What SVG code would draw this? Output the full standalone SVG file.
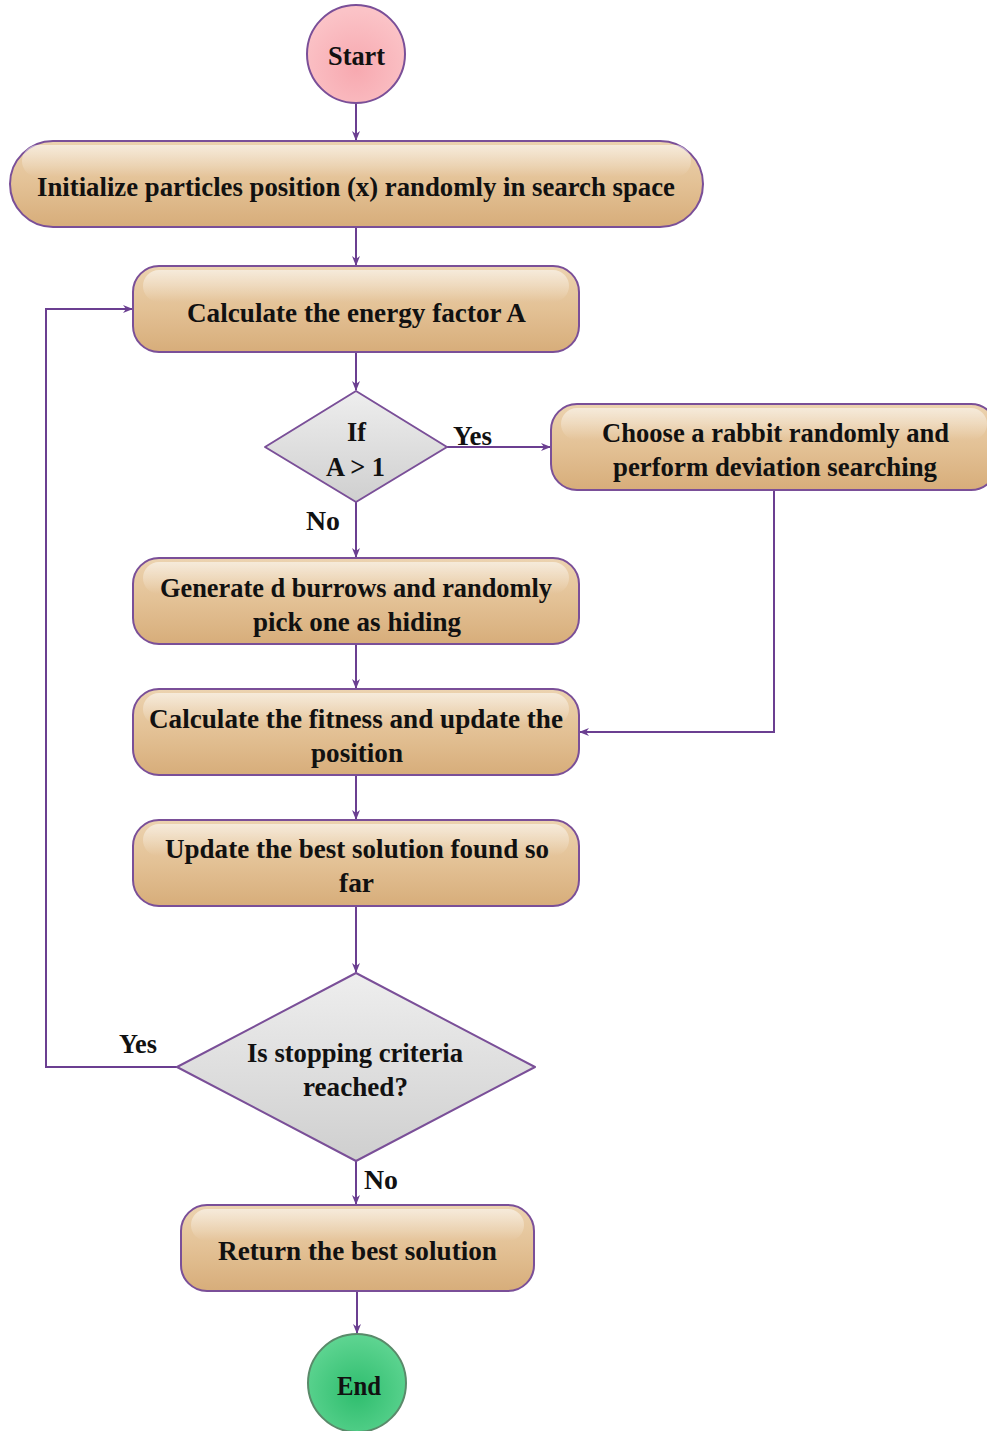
<svg xmlns="http://www.w3.org/2000/svg" width="987" height="1431" viewBox="0 0 987 1431">
<defs>
<linearGradient id="gBox" x1="0" y1="0" x2="0" y2="1">
<stop offset="0" stop-color="#ecd3b0"/>
<stop offset="0.5" stop-color="#e3c195"/>
<stop offset="1" stop-color="#d7ad7a"/>
</linearGradient>
<linearGradient id="gGloss" x1="0" y1="0" x2="0" y2="1">
<stop offset="0" stop-color="#ffffff" stop-opacity="0.55"/>
<stop offset="1" stop-color="#ffffff" stop-opacity="0"/>
</linearGradient>
<linearGradient id="gDia" x1="0" y1="0" x2="0" y2="1">
<stop offset="0" stop-color="#eeeeee"/>
<stop offset="1" stop-color="#cfcfcf"/>
</linearGradient>
<radialGradient id="gStart" cx="0.5" cy="0.65" r="0.6">
<stop offset="0" stop-color="#f7a9b0"/>
<stop offset="1" stop-color="#fbc3c7"/>
</radialGradient>
<radialGradient id="gEnd" cx="0.5" cy="0.6" r="0.6">
<stop offset="0" stop-color="#2fbd6e"/>
<stop offset="1" stop-color="#5fd592"/>
</radialGradient>
<marker id="arr" viewBox="0 0 10 10" refX="9" refY="5" markerWidth="10" markerHeight="10" markerUnits="userSpaceOnUse" orient="auto">
<path d="M0,1 L10,5 L0,9 L3,5 Z" fill="#6b3f91"/>
</marker>
</defs>
<style>
.box{fill:url(#gBox);stroke:#7a4f98;stroke-width:2}
.gl{fill:url(#gGloss);stroke:none}
.dia{fill:url(#gDia);stroke:#7a4f98;stroke-width:2;stroke-linejoin:round}
.t{font-family:"Liberation Serif","DejaVu Serif","Times New Roman",Times,serif;font-weight:bold;font-size:27px;fill:#111;text-anchor:middle}
.c{fill:none;stroke:#6b3f91;stroke-width:2}
</style>
<rect width="987" height="1431" fill="#ffffff"/>
<g id="connectors">
<line class="c" x1="356" y1="103" x2="356" y2="140" marker-end="url(#arr)"/>
<line class="c" x1="356" y1="227" x2="356" y2="265" marker-end="url(#arr)"/>
<line class="c" x1="356" y1="352" x2="356" y2="390" marker-end="url(#arr)"/>
<line class="c" x1="447" y1="447" x2="550" y2="447" marker-end="url(#arr)"/>
<line class="c" x1="356" y1="502" x2="356" y2="557" marker-end="url(#arr)"/>
<line class="c" x1="356" y1="644" x2="356" y2="688" marker-end="url(#arr)"/>
<polyline class="c" points="774,490 774,732 580,732" marker-end="url(#arr)"/>
<line class="c" x1="356" y1="775" x2="356" y2="819" marker-end="url(#arr)"/>
<line class="c" x1="356" y1="906" x2="356" y2="972" marker-end="url(#arr)"/>
<polyline class="c" points="177,1067 46,1067 46,309 132,309" marker-end="url(#arr)"/>
<line class="c" x1="356" y1="1161" x2="356" y2="1204" marker-end="url(#arr)"/>
<line class="c" x1="357" y1="1291" x2="357" y2="1333" marker-end="url(#arr)"/>
<text class="t" x="472.5" y="445" textLength="39" lengthAdjust="spacingAndGlyphs">Yes</text>
<text class="t" x="323" y="530" textLength="34" lengthAdjust="spacingAndGlyphs">No</text>
<text class="t" x="138" y="1053" textLength="38" lengthAdjust="spacingAndGlyphs">Yes</text>
<text class="t" x="381" y="1189" textLength="34" lengthAdjust="spacingAndGlyphs">No</text>
</g>
<g id="start">
<ellipse cx="356" cy="54" rx="49" ry="49" fill="url(#gStart)" stroke="#7a4f98" stroke-width="2"/>
<text class="t" x="356.5" y="65" textLength="57" lengthAdjust="spacingAndGlyphs">Start</text>
</g>
<g id="init">
<rect class="box" x="10" y="141" width="693" height="86" rx="43"/>
<rect class="gl" x="22" y="145" width="669" height="32" rx="16"/>
<text class="t" x="356" y="196" textLength="638" lengthAdjust="spacingAndGlyphs">Initialize particles position (x) randomly in search space</text>
</g>
<g id="energy">
<rect class="box" x="133" y="266" width="446" height="86" rx="26"/>
<rect class="gl" x="143" y="270" width="426" height="32" rx="16"/>
<text class="t" x="356.5" y="322" textLength="339" lengthAdjust="spacingAndGlyphs">Calculate the energy factor A</text>
</g>
<g id="ifA">
<path class="dia" d="M356,391 L447,447 L356,502 L265,447 Z"/>
<text class="t" x="356.5" y="441" textLength="19" lengthAdjust="spacingAndGlyphs">If</text>
<text class="t" x="355.5" y="476" textLength="59" lengthAdjust="spacingAndGlyphs">A &gt; 1</text>
</g>
<g id="choose">
<rect class="box" x="551" y="404" width="446" height="86" rx="26"/>
<rect class="gl" x="561" y="408" width="426" height="32" rx="16"/>
<text class="t" x="775.5" y="442" textLength="347" lengthAdjust="spacingAndGlyphs">Choose a rabbit randomly and</text>
<text class="t" x="775" y="476" textLength="324" lengthAdjust="spacingAndGlyphs">perform deviation searching</text>
</g>
<g id="generate">
<rect class="box" x="133" y="558" width="446" height="86" rx="26"/>
<rect class="gl" x="143" y="562" width="426" height="32" rx="16"/>
<text class="t" x="356" y="597" textLength="392" lengthAdjust="spacingAndGlyphs">Generate d burrows and randomly</text>
<text class="t" x="357" y="631" textLength="208" lengthAdjust="spacingAndGlyphs">pick one as hiding</text>
</g>
<g id="fitness">
<rect class="box" x="133" y="689" width="446" height="86" rx="26"/>
<rect class="gl" x="143" y="693" width="426" height="32" rx="16"/>
<text class="t" x="356" y="728" textLength="414" lengthAdjust="spacingAndGlyphs">Calculate the fitness and update the</text>
<text class="t" x="357" y="762" textLength="92" lengthAdjust="spacingAndGlyphs">position</text>
</g>
<g id="best">
<rect class="box" x="133" y="820" width="446" height="86" rx="26"/>
<rect class="gl" x="143" y="824" width="426" height="32" rx="16"/>
<text class="t" x="357" y="858" textLength="384" lengthAdjust="spacingAndGlyphs">Update the best solution found so</text>
<text class="t" x="356.5" y="892" textLength="35" lengthAdjust="spacingAndGlyphs">far</text>
</g>
<g id="stop">
<path class="dia" d="M356,973 L535,1067 L356,1161 L177,1067 Z"/>
<text class="t" x="355" y="1062" textLength="216" lengthAdjust="spacingAndGlyphs">Is stopping criteria</text>
<text class="t" x="355.5" y="1096" textLength="105" lengthAdjust="spacingAndGlyphs">reached?</text>
</g>
<g id="return">
<rect class="box" x="181" y="1205" width="353" height="86" rx="26"/>
<rect class="gl" x="191" y="1209" width="333" height="32" rx="16"/>
<text class="t" x="357.5" y="1260" textLength="279" lengthAdjust="spacingAndGlyphs">Return the best solution</text>
</g>
<g id="end">
<ellipse cx="357" cy="1383" rx="49" ry="49" fill="url(#gEnd)" stroke="#5a8a6a" stroke-width="2"/>
<text class="t" x="359" y="1395" textLength="44" lengthAdjust="spacingAndGlyphs">End</text>
</g>
</svg>
